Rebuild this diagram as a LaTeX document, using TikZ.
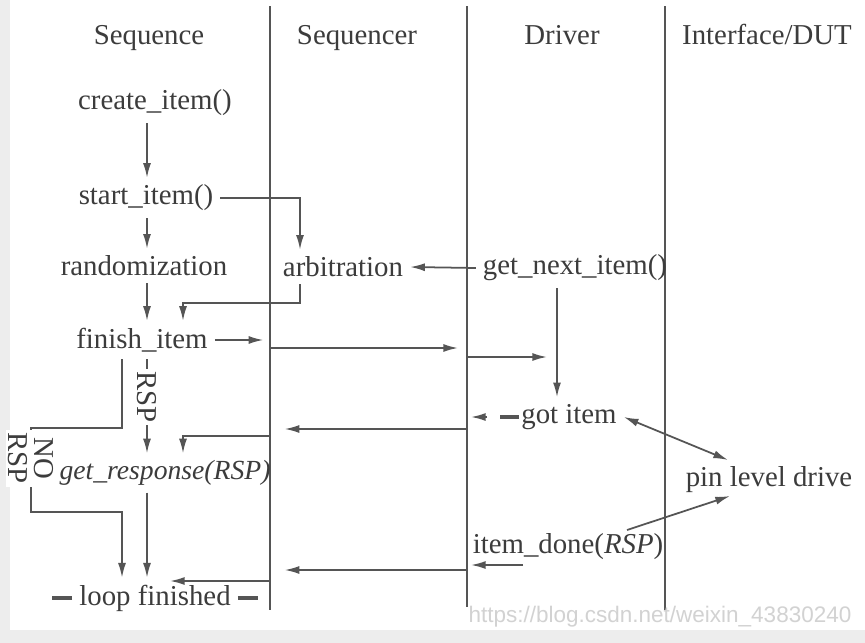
\documentclass[tikz,border=0pt]{standalone}
\usepackage{fontspec}
\setmainfont{Liberation Serif}
\usepackage{tikz}
\usetikzlibrary{arrows.meta,positioning,calc}
\definecolor{inkgray}{HTML}{3C3C3C}
\definecolor{linegray}{HTML}{555555}
\definecolor{paper}{HTML}{EDEDED}

\begin{document}
\begin{tikzpicture}[
      x=0.015cm, y=-0.015cm,
      every node/.style={text=inkgray, font=\fontsize{12.3}{14}\selectfont, inner sep=0.1cm},
      head/.style={anchor=base},
      lane/.style={draw=linegray, line width=0.85pt},
      arr/.style={draw=linegray, line width=0.75pt, -{Latex[length=0.22cm,width=0.12cm]}},
      biarr/.style={draw=linegray, line width=0.75pt, {Latex[length=0.22cm,width=0.12cm]}-{Latex[length=0.22cm,width=0.12cm]}},
      heavy/.style={draw=linegray, line width=1.8pt},
      vlabel/.style={rotate=-90, fill=white, inner sep=0.04cm},
      mark url/.style={text=gray!35, font=\fontspec{Liberation Sans}\fontsize{9.6}{11}\selectfont}
    ]
    \useasboundingbox (0,0) rectangle (865,643);
    \fill[paper] (0,0) rectangle (865,643);
    \fill[white] (10,0) rectangle (865,630);

    \coordinate (l1t) at (270,6);  \coordinate (l1b) at (270,610);
    \coordinate (l2t) at (467,6);  \coordinate (l2b) at (467,607);
    \coordinate (l3t) at (665,6);  \coordinate (l3b) at (665,610);
    \draw[lane] (l1t) -- (l1b);
    \draw[lane] (l2t) -- (l2b);
    \draw[lane] (l3t) -- (l3b);

    \coordinate (cn) at (31,0);  \coordinate (c0) at (122,0);
    \coordinate (c1) at (147,0); \coordinate (c2) at (183,0);
    \coordinate (c3) at (300,0); \coordinate (c4) at (557,0);

    \node[head] (hseq) at (149,45) {Sequence};
    \node[head] (hsqr) at (357,45) {Sequencer};
    \node[head] (hdrv) at (562,45) {Driver};
    \node[head] (hdut) at (767,45) {Interface/DUT};

    \node (create) at (155,103) {create\_item()};
    \node (start) at (146,198) {start\_item()};
    \node (rand) at (144,266) {randomization};
    \node (arb) at (343,267) {arbitration};
    \node (getnext) at (575,268) {get\_next\_item()};
    \node (finish) at (142,340) {finish\_item};
    \node (got) at (569,417) {got item};
    \node (pin) at (769,480) {pin level drive};
    \node[font=\fontsize{11.8}{14}\selectfont] (getrsp) at (165,473) {\itshape get\_response(RSP)};
    \node (done) at (568,547) {item\_done(\textit{RSP})};
    \node (loop) at (155,598) {loop finished};
    \node[mark url] (url) at (660,617) {https://blog.csdn.net/weixin\_43830240};

    \coordinate (m1) at (270,348); \coordinate (m2) at (467,357); \coordinate (m2e) at (547,357);
    \coordinate (m3) at (467,429); \coordinate (m4) at (270,436);
    \coordinate (m5) at (467,570); \coordinate (m6) at (270,581); \coordinate (m6e) at (170,581);
    \coordinate (g1) at (487,417); \coordinate (d1) at (523,565); \coordinate (d2) at (627,530);
    \coordinate (p1) at (728,460); \coordinate (p2) at (730,496);
    \coordinate (b1) at (300,303); \coordinate (b2) at (31,428); \coordinate (b3) at (31,512);

    \draw[arr] (create.south -| c1) -- (start.north -| c1);
    \draw[arr] (start.east) -| (arb.north -| c3);
    \draw[arr] (start.south -| c1) -- (rand.north -| c1);
    \draw[arr] (getnext.west) -- (arb.east);
    \draw[arr] (arb.south -| c3) -- (b1) -| (finish.north -| c2);
    \draw[arr] (rand.south -| c1) -- (finish.north -| c1);
    \draw[arr, shorten >=0.1cm] (finish.east) -- (finish.east -| l1t);
    \draw[arr, shorten >=0.135cm] (m1) -- (m1 -| l2t);
    \draw[arr] (m2) -- (m2e);
    \draw[arr] (getnext.south -| c4) -- (got.north -| c4);
    \draw[heavy] ([xshift=0.075cm]got.west) -- ++(-19,0);
    \draw[arr, shorten >=0.06cm] (g1) -- (g1 -| l2t);
    \draw[biarr] (got.east) -- (p1);
    \draw[arr, shorten >=0.22cm] (m3) -- (m3 -| l1t);
    \draw[arr] (m4) -| (getrsp.north -| c2);
    \draw[arr] (finish.south -| c1) -- node[vlabel, pos=0.4] {RSP} (getrsp.north -| c1);
    \draw[arr] (finish.south -| c0) -- (b2 -| c0) -- (b2)
      -- node[vlabel, pos=0.36, align=center, font=\fontsize{12.3}{11}\selectfont] {NO\\RSP} (b3)
      -- (b3 -| c0) -- (loop.north -| c0);
    \draw[arr] (getrsp.south -| c1) -- (loop.north -| c1);
    \draw[arr] (d2) -- (p2);
    \draw[arr, shorten >=0.06cm] (d1) -- (d1 -| l2t);
    \draw[arr, shorten >=0.22cm] (m5) -- (m5 -| l1t);
    \draw[arr] (m6) -- (m6e);
    \draw[heavy] (loop.west) -- ++(-20,0);
    \draw[heavy] (loop.east) -- ++(20,0);
  \end{tikzpicture}
\end{document}
